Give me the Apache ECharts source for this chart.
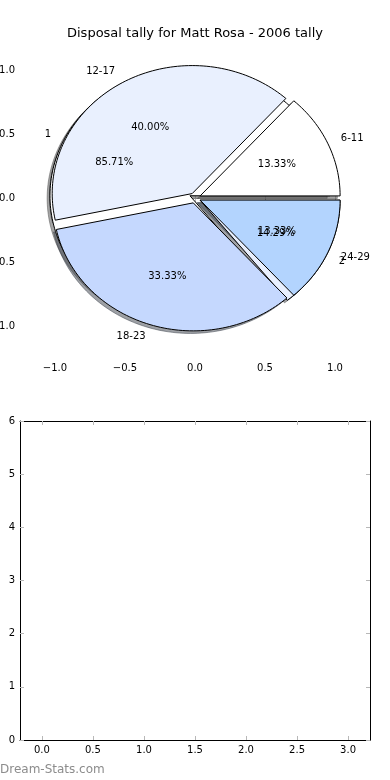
<!DOCTYPE html>
<html><head><meta charset="utf-8">
<script src="https://cdn.jsdelivr.net/npm/echarts@6/dist/echarts.min.js"></script>
<style>html,body{margin:0;padding:0;background:#fff}#c{width:390px;height:780px}</style>
</head><body><div id="c"></div><script>
// ---- data ----
const ageCategories = ['6-11', '12-17', '18-23', '24-29'];
const ageValues = [2, 6, 5, 2];
const groupCategories = ['1', '2'];
const groupValues = [6, 1];
const pieTicks = [-1.0, -0.5, 0.0, 0.5, 1.0];
const lowerXTicks = [0, 0.5, 1, 1.5, 2, 2.5, 3];
const lowerYTicks = [0, 1, 2, 3, 4, 5, 6];
const titleText = 'Disposal tally for Matt Rosa - 2006 tally';
const watermarkText = 'Dream-Stats.com';

// ---- style ----
const sliceColors = ['#ffffff', '#e9f0fe', '#c5d8fe', '#b3d4fe'];
const explode = 0.04;
const shadowOffset = 0.02;
const FONT = 'DejaVu Sans';

function buildWedges(cats, vals, pie) {
  const total = vals.reduce((a, b) => a + b, 0);
  let acc = 0;
  return vals.map((v, i) => {
    const start = acc / total * 360;
    acc += v;
    const end = acc / total * 360;
    return { pie, label: cats[i], pct: (v / total * 100).toFixed(2) + '%', start, end, color: sliceColors[i % sliceColors.length] };
  });
}
const wedgesTop = buildWedges(ageCategories, ageValues, 0);
const wedgesUnder = buildWedges(groupCategories, groupValues, 1);
const drawOrder = wedgesUnder.concat(wedgesTop);
const allWedges = wedgesTop.concat(wedgesUnder);

function shadeColor(hex) {
  const r = parseInt(hex.slice(1, 3), 16), g = parseInt(hex.slice(3, 5), 16), b = parseInt(hex.slice(5, 7), 16);
  return 'rgba(' + Math.round(r * 0.3) + ',' + Math.round(g * 0.3) + ',' + Math.round(b * 0.3) + ',0.5)';
}

function wedgePoints(w, api, dx, dy) {
  const mid = (w.start + w.end) / 2 * Math.PI / 180;
  const cx = explode * Math.cos(mid) + dx, cy = explode * Math.sin(mid) + dy;
  const pts = [api.coord([cx, cy])];
  const n = Math.max(2, Math.ceil((w.end - w.start) / 1.5));
  for (let k = 0; k <= n; k++) {
    const a = (w.start + (w.end - w.start) * k / n) * Math.PI / 180;
    pts.push(api.coord([cx + Math.cos(a), cy + Math.sin(a)]));
  }
  return pts;
}

function fmt1(v) { return (v < 0 ? '\u2212' : '') + Math.abs(v).toFixed(1); }

const tickStyle = { show: true, inside: true, length: 4, lineStyle: { color: '#b8b8b8', width: 1 } };
const lbl = { color: '#000', fontSize: 10, fontFamily: FONT };

const chart = echarts.init(document.getElementById('c'), null, { renderer: 'canvas' });
chart.setOption({
  animation: false,
  backgroundColor: '#fff',
  title: { text: titleText, left: 'center', top: 22, textStyle: { fontSize: 13, fontWeight: 'normal', color: '#000', fontFamily: FONT } },
  graphic: [{ type: 'text', left: 0, top: 764, style: { text: watermarkText, fontSize: 12, fontFamily: FONT, fill: '#8c8c8c' } }],
  grid: [
    { left: 20, top: 38, width: 350, height: 320, containLabel: false, outerBoundsMode: 'none' },
    { left: 20, top: 421, width: 350, height: 319, containLabel: false, outerBoundsMode: 'none' }
  ],
  xAxis: [
    { gridIndex: 0, type: 'value', min: -1.25, max: 1.25, position: 'bottom', axisLine: { show: false },
      axisTick: Object.assign({ customValues: pieTicks }, tickStyle), splitLine: { show: false },
      axisLabel: Object.assign({ customValues: pieTicks, formatter: fmt1, margin: 5 }, lbl) },
    { gridIndex: 0, type: 'value', min: -1.25, max: 1.25, position: 'top', axisLine: { show: false },
      axisTick: Object.assign({ customValues: pieTicks }, tickStyle), splitLine: { show: false }, axisLabel: { show: false } },
    { gridIndex: 1, type: 'value', min: -0.215, max: 3.215, position: 'bottom',
      axisLine: { show: true, lineStyle: { color: '#000', width: 1 } },
      axisTick: Object.assign({ customValues: lowerXTicks }, tickStyle), splitLine: { show: false },
      axisLabel: Object.assign({ customValues: lowerXTicks, formatter: fmt1, margin: 5 }, lbl) },
    { gridIndex: 1, type: 'value', min: -0.215, max: 3.215, position: 'top',
      axisLine: { show: true, onZero: false, lineStyle: { color: '#000', width: 1 } },
      axisTick: Object.assign({ customValues: lowerXTicks }, tickStyle), splitLine: { show: false }, axisLabel: { show: false } }
  ],
  yAxis: [
    { gridIndex: 0, type: 'value', min: -1.25, max: 1.25, position: 'left', axisLine: { show: false },
      axisTick: Object.assign({ customValues: pieTicks }, tickStyle), splitLine: { show: false },
      axisLabel: Object.assign({ customValues: pieTicks, formatter: fmt1, margin: 5 }, lbl) },
    { gridIndex: 0, type: 'value', min: -1.25, max: 1.25, position: 'right', axisLine: { show: false },
      axisTick: Object.assign({ customValues: pieTicks }, tickStyle), splitLine: { show: false }, axisLabel: { show: false } },
    { gridIndex: 1, type: 'value', min: 0, max: 6, interval: 1, position: 'left',
      axisLine: { show: true, onZero: false, lineStyle: { color: '#000', width: 1 } },
      axisTick: tickStyle, splitLine: { show: false },
      axisLabel: Object.assign({ formatter: v => String(v), margin: 5 }, lbl) },
    { gridIndex: 1, type: 'value', min: 0, max: 6, interval: 1, position: 'right',
      axisLine: { show: true, onZero: false, lineStyle: { color: '#000', width: 1 } },
      axisTick: tickStyle, splitLine: { show: false }, axisLabel: { show: false } }
  ],
  series: [
    { type: 'custom', name: 'shadows', xAxisIndex: 0, yAxisIndex: 0, clip: false, z: 1,
      data: drawOrder.map((w, i) => [i]),
      renderItem: (params, api) => {
        const w = drawOrder[params.dataIndex];
        const c = shadeColor(w.color);
        return { type: 'polygon', shape: { points: wedgePoints(w, api, -shadowOffset, -shadowOffset) },
          style: { fill: c, stroke: c, lineWidth: 1 } };
      } },
    { type: 'custom', name: 'wedges', xAxisIndex: 0, yAxisIndex: 0, clip: false, z: 2,
      data: drawOrder.map((w, i) => [i]),
      renderItem: (params, api) => {
        const w = drawOrder[params.dataIndex];
        return { type: 'polygon', shape: { points: wedgePoints(w, api, 0, 0) },
          style: { fill: w.color, stroke: '#000', lineWidth: 1 } };
      } },
    { type: 'custom', name: 'labels', xAxisIndex: 0, yAxisIndex: 0, clip: false, z: 3,
      data: allWedges.map((w, i) => [i]),
      renderItem: (params, api) => {
        const w = allWedges[params.dataIndex];
        const mid = (w.start + w.end) / 2 * Math.PI / 180;
        const cx = explode * Math.cos(mid), cy = explode * Math.sin(mid);
        const lx = cx + 1.1 * Math.cos(mid), ly = cy + 1.1 * Math.sin(mid);
        const px = cx + 0.6 * Math.cos(mid), py = cy + 0.6 * Math.sin(mid);
        const lp = api.coord([lx, ly]), pp = api.coord([px, py]);
        return { type: 'group', children: [
          { type: 'text', x: lp[0], y: lp[1], style: { text: w.label, align: lx > 0 ? 'left' : 'right', verticalAlign: 'middle', fontSize: 10, fontFamily: FONT, fill: '#000' } },
          { type: 'text', x: pp[0], y: pp[1], style: { text: w.pct, align: 'center', verticalAlign: 'middle', fontSize: 10, fontFamily: FONT, fill: '#000' } }
        ] };
      } }
  ]
});
</script></body></html>
